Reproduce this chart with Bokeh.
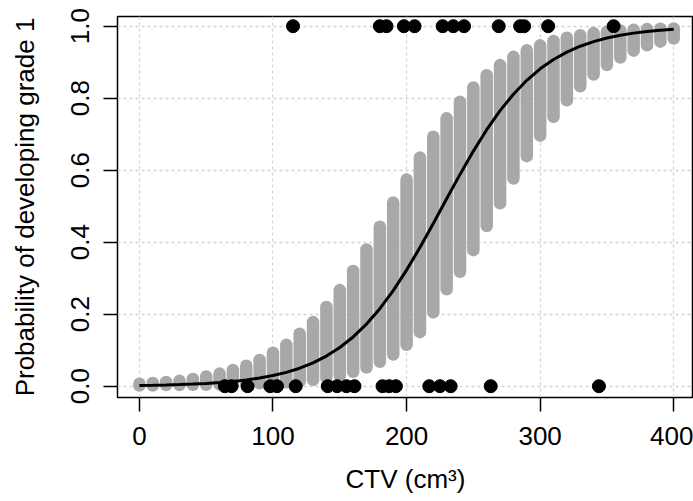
import math
from bokeh.plotting import figure
from bokeh.models import FixedTicker, PrintfTickFormatter, ColumnDataSource
from bokeh.embed import file_html
from bokeh.resources import INLINE

# ---- data ----
ctv_grid = [0, 10, 20, 30, 40, 50, 60, 70, 80, 90, 100, 110, 120, 130, 140,
            150, 160, 170, 180, 190, 200, 210, 220, 230, 240, 250, 260, 270,
            280, 290, 300, 310, 320, 330, 340, 350, 360, 370, 380, 390, 400]

# spread of the bootstrap predictions (grey circles): lowest and highest circle
boot_low = [0.002, 0.002, 0.003, 0.003, 0.004, 0.004, 0.005, 0.006, 0.007, 0.008,
            0.009, 0.011, 0.014, 0.018, 0.023, 0.030, 0.040, 0.052, 0.068, 0.088,
            0.115, 0.150, 0.205, 0.269, 0.318, 0.378, 0.445, 0.508, 0.577, 0.639,
            0.696, 0.748, 0.794, 0.833, 0.866, 0.892, 0.913, 0.932, 0.947, 0.957,
            0.966]
boot_high = [0.007, 0.009, 0.012, 0.015, 0.020, 0.027, 0.035, 0.045, 0.057, 0.073,
             0.093, 0.115, 0.146, 0.178, 0.220, 0.267, 0.320, 0.380, 0.443, 0.510,
             0.574, 0.635, 0.693, 0.744, 0.790, 0.830, 0.864, 0.892, 0.915, 0.933,
             0.947, 0.959, 0.968, 0.975, 0.981, 0.985, 0.988, 0.990, 0.992, 0.993,
             0.994]

# fitted probability curve (black line)
fit_prob = [0.0019, 0.0026, 0.0034, 0.0044, 0.0058, 0.0076, 0.0100, 0.0132,
            0.0172, 0.0226, 0.0295, 0.0385, 0.0500, 0.0649, 0.0837, 0.1074,
            0.1368, 0.1726, 0.2154, 0.2655, 0.3225, 0.3852, 0.4520, 0.5206,
            0.5884, 0.6531, 0.7125, 0.7654, 0.8111, 0.8498, 0.8816, 0.9074,
            0.9281, 0.9444, 0.9572, 0.9672, 0.9749, 0.9808, 0.9853, 0.9888,
            0.9915]

# observed patients
ctv_grade1 = [115, 180, 185, 198, 206, 227, 235, 243, 269, 285, 288, 306, 355]
ctv_grade0 = [64, 69, 81, 98, 103, 117, 141, 148, 155, 161, 182, 187, 192,
              217, 225, 233, 263, 344]

x_ticks = [0, 100, 200, 300, 400]
y_ticks = [0.0, 0.2, 0.4, 0.6, 0.8, 1.0]

FONT = "Liberation Sans"

p = figure(width=693, height=501, output_backend="svg", toolbar_location=None,
           x_range=(-16.4, 414.8), y_range=(-0.0314, 1.027),
           min_border_left=117, min_border_right=0, min_border_top=16,
           min_border_bottom=104)
p.background_fill_color = "white"
p.border_fill_color = "white"
p.outline_line_color = "black"
p.outline_line_width = 1.5

# grid
for g in (p.xgrid, p.ygrid):
    g.grid_line_color = "#d3d3d3"
    g.grid_line_dash = "3 3"
    g.grid_line_width = 1.3
p.xgrid.ticker = FixedTicker(ticks=x_ticks)
p.ygrid.ticker = FixedTicker(ticks=y_ticks)

# axes
p.xaxis.ticker = FixedTicker(ticks=x_ticks)
p.yaxis.ticker = FixedTicker(ticks=y_ticks)
p.yaxis.formatter = PrintfTickFormatter(format="%.1f")
p.yaxis.major_label_orientation = "parallel"
for ax in (p.xaxis, p.yaxis):
    ax.axis_line_color = None
    ax.major_tick_in = 0
    ax.major_tick_out = 14
    ax.major_tick_line_width = 1.5
    ax.major_tick_line_color = "black"
    ax.minor_tick_line_color = None
    ax.major_label_text_font = FONT
    ax.major_label_text_font_size = "26px"
    ax.major_label_text_color = "black"
    ax.axis_label_text_font = FONT
    ax.axis_label_text_font_size = "26px"
    ax.axis_label_text_font_style = "normal"
    ax.axis_label_text_color = "black"
p.xaxis.major_label_standoff = 15
p.xaxis.axis_label_standoff = 16
p.yaxis.major_label_standoff = 14
p.yaxis.axis_label_standoff = 29
p.xaxis.axis_label = "CTV (cm³)"
p.yaxis.axis_label = "Probability of developing grade 1"

# grey bootstrap columns
src = ColumnDataSource(dict(x=ctv_grid, lo=boot_low, hi=boot_high))
p.segment(x0="x", y0="lo", x1="x", y1="hi", source=src,
          line_color="#a8a8a8", line_width=12.5, line_cap="round")

# fitted curve
p.line(ctv_grid, fit_prob, line_color="black", line_width=3)

# observed data
p.scatter(ctv_grade1, [1] * len(ctv_grade1), size=13, color="black")
p.scatter(ctv_grade0, [0] * len(ctv_grade0), size=13, color="black")

open("out.html", "w").write(file_html(p, INLINE))
